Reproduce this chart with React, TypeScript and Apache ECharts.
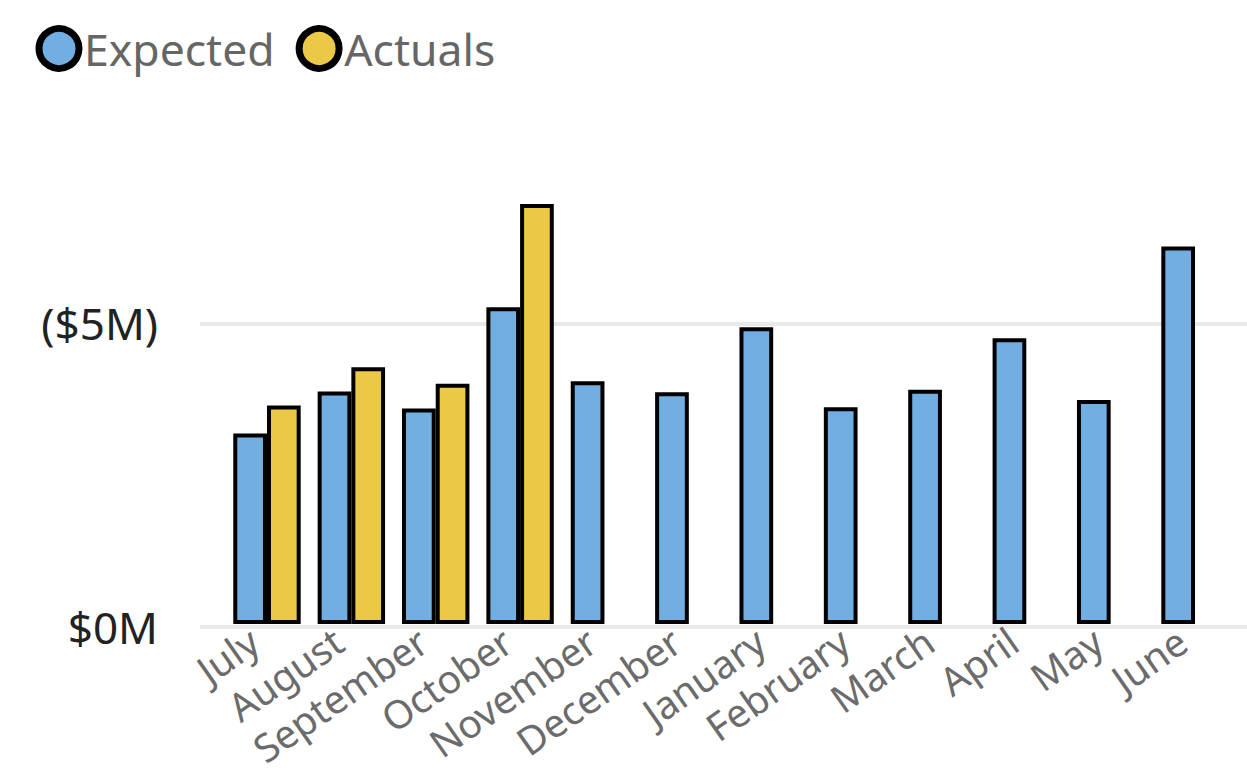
import React, { useEffect, useRef } from "react";
import * as echarts from "echarts";

const categories = ["July", "August", "September", "October", "November", "December", "January", "February", "March", "April", "May", "June"];
const expected = [3.14, 3.83, 3.55, 5.22, 4.0, 3.82, 4.89, 3.57, 3.86, 4.71, 3.69, 6.22];
const actuals: (number | string)[] = [3.6, 4.23, 3.96, 6.92, "-", "-", "-", "-", "-", "-", "-", "-"];
const yTickValues = [0, 5];
const yTickLabels = ["$0M", "($5M)"];

const FONT = "'Noto Sans', 'Open Sans', sans-serif";
const BLUE = "#71AEE2";
const YELLOW = "#EBC845";

export default function App() {
  const ref = useRef<HTMLDivElement>(null);
  useEffect(() => {
    if (!ref.current) return;
    const chart = echarts.init(ref.current, null, { renderer: "svg" });
    const yMax = 7.5;
    const pxPerM = 60.68;
    const option: any = {
      animation: false,
      backgroundColor: "#fff",
      textStyle: { fontFamily: FONT },
      legend: {
        left: 30.5,
        top: 20,
        icon: "circle",
        itemWidth: 40,
        itemHeight: 40,
        itemGap: 21,
        itemStyle: { borderColor: "#000", borderWidth: 7 },
        textStyle: { fontSize: 44.5, color: "#666", fontFamily: FONT },
        data: ["Expected", "Actuals"],
      },
      grid: [
        { left: 200, right: 0, top: 626.7 - yMax * pxPerM, bottom: 773 - 626.7, outerBoundsMode: "none", containLabel: false },
        { left: 224.8, right: 9.8, top: 624 - yMax * pxPerM, bottom: 773 - 624, outerBoundsMode: "none", containLabel: false },
      ],
      xAxis: [
        { type: "value", gridIndex: 0, show: false, min: 0, max: 1 },
        {
          type: "category",
          gridIndex: 1,
          data: categories,
          axisLine: { show: false },
          axisTick: { show: false },
          axisLabel: {
            interval: 0,
            rotate: 35,
            margin: 3,
            padding: [0, 16, 0, 0],
            fontSize: 39,
            color: "#6b6b6b",
            fontFamily: FONT,
          },
        },
      ],
      yAxis: [
        {
          type: "value",
          gridIndex: 0,
          min: 0,
          max: yMax,
          interval: 5,
          axisLine: { show: false },
          axisTick: { show: false },
          splitLine: { show: true, showMaxLine: false, lineStyle: { color: "#e9e9e9", width: 4 } },
          axisLabel: {
            showMaxLabel: false,
            margin: 42,
            fontSize: 44,
            color: "#222",
            fontFamily: FONT,
            formatter: (v: number) => {
              const i = yTickValues.indexOf(v);
              return i >= 0 ? yTickLabels[i] : "";
            },
          },
        },
        { type: "value", gridIndex: 1, min: 0, max: yMax, show: false, splitLine: { show: false } },
      ],
      series: [
        {
          name: "Expected",
          type: "bar",
          xAxisIndex: 1,
          yAxisIndex: 1,
          data: expected,
          barWidth: 33.7,
          barGap: "0%",
          itemStyle: { color: BLUE, borderColor: "#000", borderWidth: 4 },
        },
        {
          name: "Actuals",
          type: "bar",
          xAxisIndex: 1,
          yAxisIndex: 1,
          data: actuals,
          barWidth: 33.7,
          barGap: "0%",
          itemStyle: { color: YELLOW, borderColor: "#000", borderWidth: 4 },
        },
      ],
    };
    chart.setOption(option);
    return () => chart.dispose();
  }, []);
  return <div ref={ref} style={{ width: 1247, height: 773, position: "absolute", left: 0, top: 0 }} />;
}
